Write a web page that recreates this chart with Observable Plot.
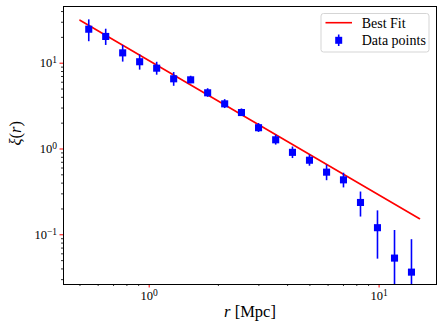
<!DOCTYPE html>
<html><head><meta charset="utf-8">
<script src="https://cdn.jsdelivr.net/npm/d3@7"></script>
<script src="https://cdn.jsdelivr.net/npm/@observablehq/plot@0.6"></script>
<style>body{margin:0;background:#fff}</style>
</head><body><div id="chart"></div>
<script>
const r = [0.546, 0.647, 0.767, 0.909, 1.078, 1.278, 1.515, 1.796, 2.13, 2.52, 2.99, 3.55, 4.2, 4.98, 5.91, 7.0, 8.3, 9.84, 11.67, 13.83];
const xi = [24.9, 20.5, 13.2, 10.4, 8.75, 6.58, 6.4, 4.52, 3.36, 2.66, 1.77, 1.28, 0.914, 0.74, 0.537, 0.437, 0.238, 0.121, 0.0535, 0.0367];
const xiErr = [7.1, 4.4, 2.9, 2.1, 1.5, 1.2, 0.65, 0.52, 0.4, 0.27, 0.21, 0.17, 0.14, 0.11, 0.11, 0.085, 0.077, 0.069, 0.0585, 0.051];
const fitR = [0.5, 15];
const fitXi = [31.7, 0.154];
const xMajor = [1, 10];
const xMinor = [0.5, 0.6, 0.7, 0.8, 0.9, 2, 3, 4, 5, 6, 7, 8, 9];
const yMajor = [0.1, 1, 10];
const yMinor = [0.03, 0.04, 0.05, 0.06, 0.07, 0.08, 0.09, 0.2, 0.3, 0.4, 0.5, 0.6, 0.7, 0.8, 0.9, 2, 3, 4, 5, 6, 7, 8, 9, 20, 30, 40];
const seriesNames = ["Best Fit", "Data points"];
const xLabel = "r [Mpc]";
const yLabel = "ξ(r)";

const pts = r.map((v, i) => ({r: v, xi: xi[i], err: xiErr[i]}));
const fit = fitR.map((v, i) => ({r: v, xi: fitXi[i]}));
const fmt = d => "10^" + Math.round(Math.log10(d));

const chart = Plot.plot({
  width: 443, height: 333,
  marginLeft: 63, marginRight: 7, marginTop: 6, marginBottom: 49,
  x: {type: "log", domain: [0.424, 17.77]},
  y: {type: "log", domain: [0.02634, 45.8]},
  style: {fontFamily: "'Liberation Serif', serif", fontSize: "12px", color: "black", background: "white"},
  marks: [
    Plot.axisX(xMinor, {tickSize: 2, tickFormat: () => "", label: null, stroke: "#333"}),
    Plot.axisX(xMajor, {tickSize: 3.5, stroke: "red", fill: "black", tickFormat: fmt, label: null, tickPadding: 3, fontSize: 12.5}),
    Plot.axisY(yMinor, {tickSize: 2, tickFormat: () => "", label: null, stroke: "#333"}),
    Plot.axisY(yMajor, {tickSize: 3.5, stroke: "red", fill: "black", tickFormat: fmt, label: null, tickPadding: 3, fontSize: 12.5}),
    Plot.line(fit, {x: "r", y: "xi", stroke: "#ff0000", strokeWidth: 1.6}),
    Plot.ruleX(pts, {x: "r", y1: d => Math.max(d.xi - d.err, 1e-4), y2: d => d.xi + d.err, stroke: "#0000ff", strokeWidth: 1.6, clip: true}),
    Plot.dot(pts, {x: "r", y: "xi", symbol: "square", r: 4, fill: "#0000ff", stroke: null}),
    Plot.frame({stroke: "black", strokeWidth: 1}),
    Plot.text([xLabel], {frameAnchor: "bottom", dy: 32, fontSize: 16.5, fill: "black"}),
    Plot.text([yLabel], {frameAnchor: "left", dx: -48, rotate: -90, fontSize: 16.5, fill: "black"})
  ]
});

const svg = d3.select(chart);
svg.selectAll("text").each(function() {
  const t = this.textContent;
  const sel = d3.select(this);
  if (/^10\^/.test(t)) {
    const e = t.slice(3).replace("-", "−");
    sel.text("");
    sel.append("tspan").text("10");
    sel.append("tspan").attr("dy", "-0.45em").attr("font-size", "9.5px").text(e);
  } else if (t === xLabel) {
    sel.text("");
    sel.append("tspan").attr("font-style", "italic").text("r");
    sel.append("tspan").text(" [Mpc]");
  } else if (t === yLabel) {
    sel.text("");
    sel.append("tspan").attr("font-style", "italic").text("ξ");
    sel.append("tspan").text("(");
    sel.append("tspan").attr("font-style", "italic").text("r");
    sel.append("tspan").text(")");
  }
});

// legend
const lg = svg.append("g").attr("font-family", "'Liberation Serif', serif").attr("font-size", 14).attr("text-anchor", "start");
lg.append("rect").attr("x", 321).attr("y", 13.5).attr("width", 108).attr("height", 38.5)
  .attr("rx", 2.5).attr("fill", "white").attr("fill-opacity", 0.8).attr("stroke", "#d5d5d5");
lg.append("line").attr("x1", 325.5).attr("x2", 352).attr("y1", 22.7).attr("y2", 22.7)
  .attr("stroke", "#ff0000").attr("stroke-width", 1.6);
lg.append("line").attr("x1", 338.7).attr("x2", 338.7).attr("y1", 34.5).attr("y2", 46)
  .attr("stroke", "#0000ff").attr("stroke-width", 1.6);
lg.append("rect").attr("x", 335.2).attr("y", 36.8).attr("width", 7).attr("height", 7).attr("fill", "#0000ff");
lg.append("text").attr("x", 361.7).attr("y", 27.5).attr("fill", "black").attr("text-anchor", "start").text(seriesNames[0]);
lg.append("text").attr("x", 361.7).attr("y", 45).attr("fill", "black").attr("text-anchor", "start").text(seriesNames[1]);

document.getElementById("chart").appendChild(chart);
</script>
</body></html>
